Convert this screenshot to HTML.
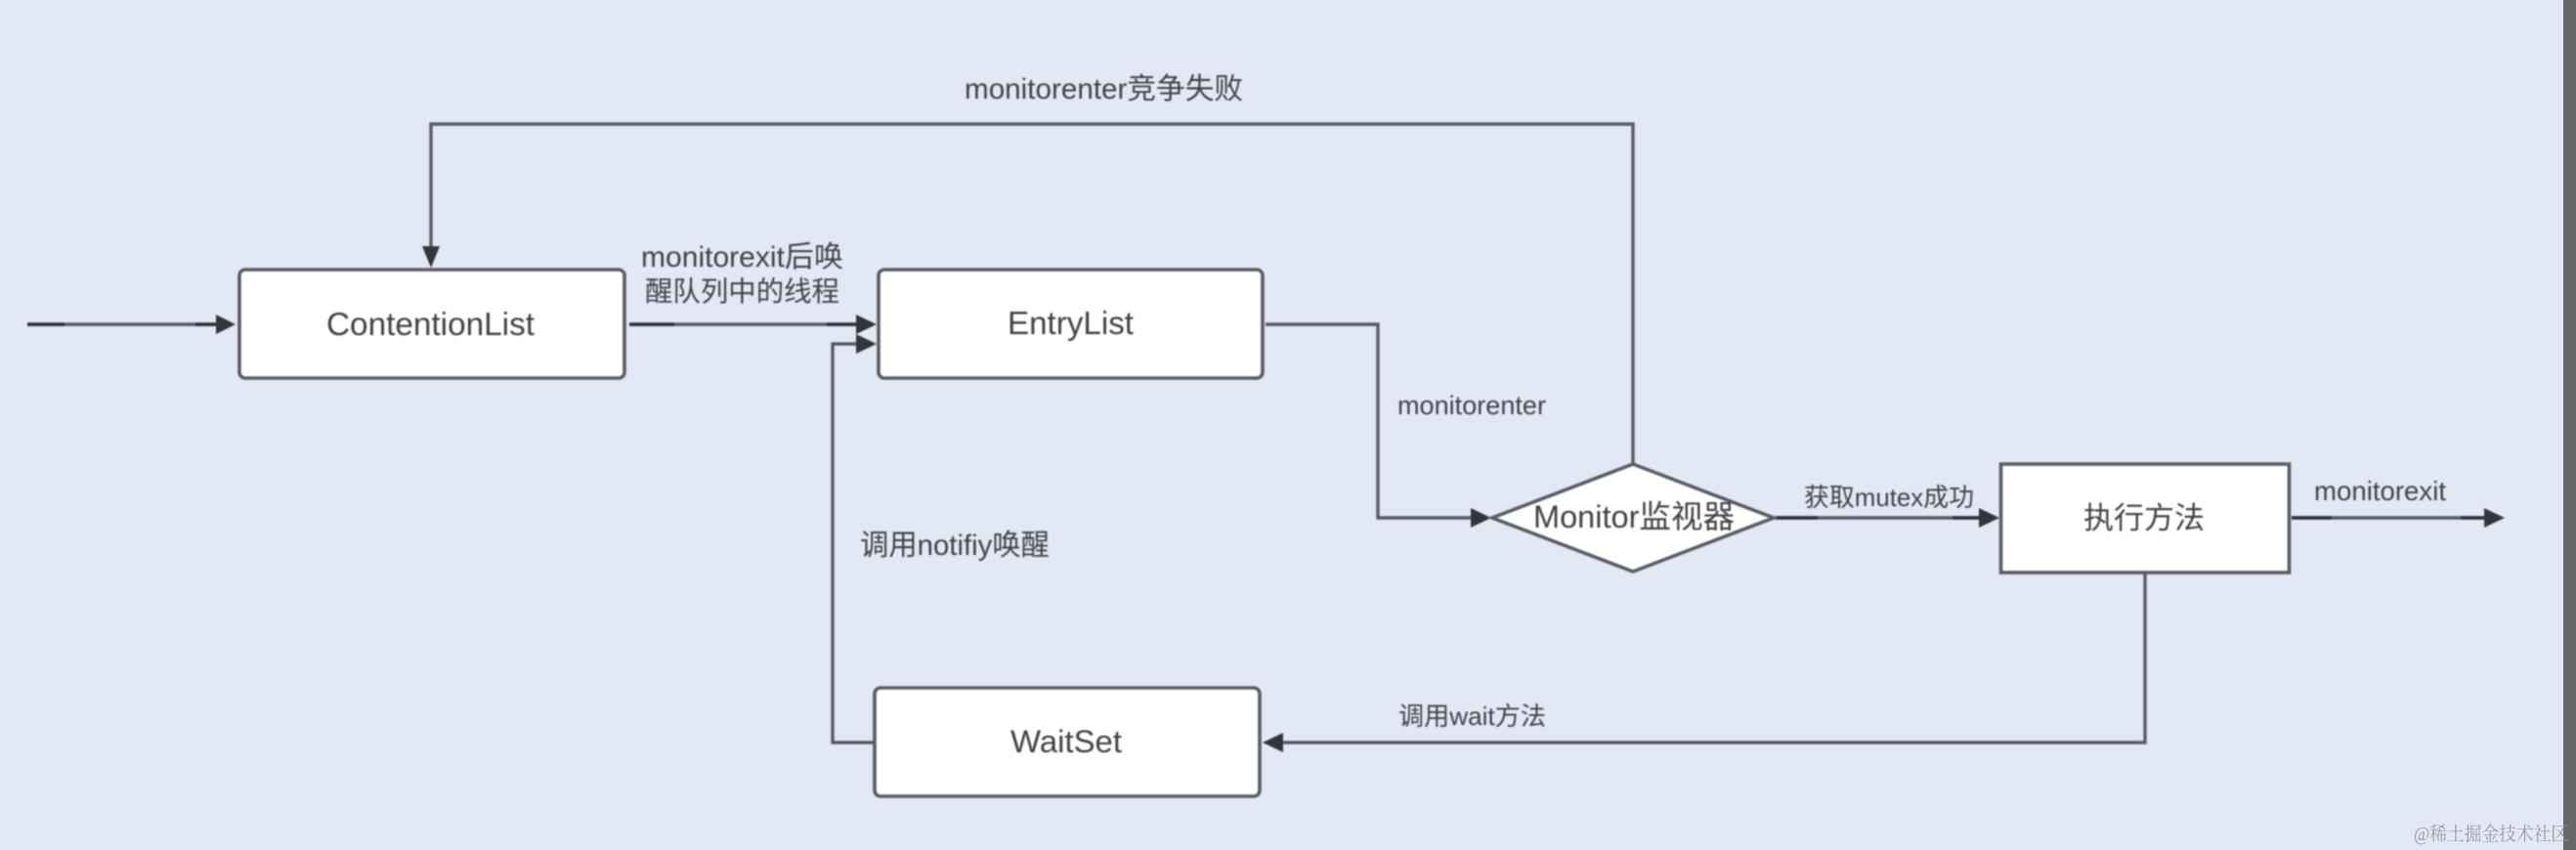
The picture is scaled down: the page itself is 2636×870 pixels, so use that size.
<!DOCTYPE html>
<html>
<head>
<meta charset="utf-8">
<style>
html,body{margin:0;padding:0;background:#e3e9f4;width:2636px;height:870px;overflow:hidden}
svg{display:block;position:absolute;left:0;top:0}
text{font-family:"Liberation Sans","Noto Sans CJK SC",sans-serif;fill:#404248}
.l{fill:none;stroke:#565b65;stroke-width:3.4}
.d{fill:none;stroke:#2f3238;stroke-width:3.6}
.a{fill:#32353c;stroke:none}
.b{fill:#fff;stroke:#5a5d64;stroke-width:3.6}
</style>
</head>
<body>
<svg width="2636" height="870" viewBox="0 0 2636 870" xmlns="http://www.w3.org/2000/svg">
<rect width="2636" height="870" fill="#e3e9f4"/>
<g style="filter:blur(.7px)">
<!-- connectors -->
<path class="l" d="M1671 475V127H441V255"/>
<path class="l" d="M28 332H222"/>
<path class="d" d="M28 332H66M200 332H222"/>
<path class="a" d="M221 322L241 332L221 342Z"/>
<path class="a" d="M432 252L450 252L441 274Z"/>
<path class="l" d="M644 332H878"/>
<path class="d" d="M644 332H690M846 332H878"/>
<path class="a" d="M876 322L897 332L876 342Z"/>
<path class="l" d="M895 760H852V352H878"/>
<path class="a" d="M876 342L897 352L876 362Z"/>
<path class="l" d="M1295 332H1410V530H1506"/>
<path class="a" d="M1505 520L1526 530L1505 540Z"/>
<path class="l" d="M1817 530H2028"/>
<path class="d" d="M1817 530H1860M1998 530H2028"/>
<path class="a" d="M2025 520L2046 530L2025 540Z"/>
<path class="l" d="M2345 530H2545"/>
<path class="d" d="M2345 530H2386M2518 530H2545"/>
<path class="a" d="M2542 520L2563 530L2542 540Z"/>
<path class="l" d="M2195 586V760H1310"/>
<path class="a" d="M1313 750L1292 760L1313 770Z"/>
<!-- nodes -->
<rect class="b" x="245" y="276" width="394" height="111" rx="6"/>
<rect class="b" x="899" y="276" width="393" height="111" rx="6"/>
<rect class="b" x="895" y="704" width="394" height="111" rx="6"/>
<rect class="b" x="2047.500" y="475" width="295" height="111"/>
<path class="b" d="M1671 475L1815 530L1671 585L1527 530Z"/>
<!-- labels -->
<text x="334" y="343" font-size="33" textLength="213" lengthAdjust="spacingAndGlyphs">ContentionList</text>
<text x="1031" y="342" font-size="33" textLength="129" lengthAdjust="spacingAndGlyphs">EntryList</text>
<text x="1034" y="770" font-size="32.500" textLength="114" lengthAdjust="spacingAndGlyphs">WaitSet</text>
<text x="1569" y="540" font-size="32.500" textLength="206" lengthAdjust="spacingAndGlyphs">Monitor监视器</text>
<text x="2132" y="541" font-size="31" textLength="124" lengthAdjust="spacingAndGlyphs">执行方法</text>
<text x="987" y="101" font-size="30" textLength="285" lengthAdjust="spacingAndGlyphs">monitorenter竞争失败</text>
<text x="656" y="273" font-size="30" textLength="207" lengthAdjust="spacingAndGlyphs">monitorexit后唤</text>
<text x="660" y="308" font-size="28.500" textLength="199" lengthAdjust="spacingAndGlyphs">醒队列中的线程</text>
<text x="1430" y="424" font-size="27" textLength="152" lengthAdjust="spacingAndGlyphs">monitorenter</text>
<text x="880" y="568" font-size="30" textLength="194" lengthAdjust="spacingAndGlyphs">调用notifiy唤醒</text>
<text x="1431" y="742" font-size="26" textLength="151" lengthAdjust="spacingAndGlyphs">调用wait方法</text>
<text x="1846" y="518" font-size="26" textLength="174" lengthAdjust="spacingAndGlyphs">获取mutex成功</text>
<text x="2368" y="512" font-size="27.500" textLength="135" lengthAdjust="spacingAndGlyphs">monitorexit</text>
</g>
<rect x="2623" y="0" width="13" height="870" fill="#676767"/>
<text x="2470" y="860" font-size="19.500" textLength="158" lengthAdjust="spacingAndGlyphs" style="fill:#9a9ca3;font-family:'Liberation Serif','Noto Serif CJK SC',serif">@稀土掘金技术社区</text>
</svg>
</body>
</html>
